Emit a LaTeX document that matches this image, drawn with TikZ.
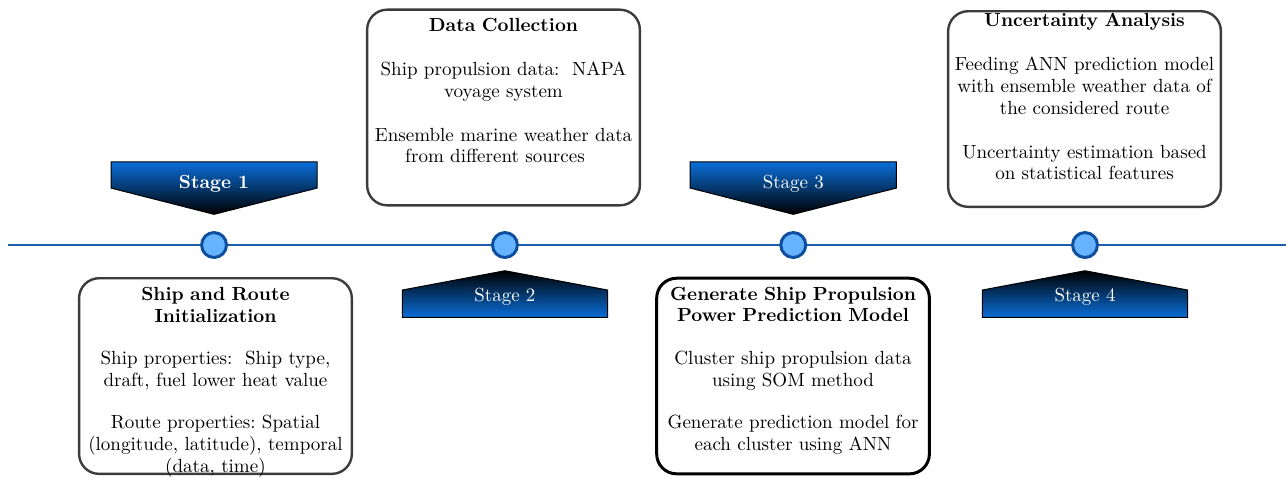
\documentclass[tikz,border=0pt]{standalone}
\usepackage{fontspec}
\usepackage{tikz}
\usetikzlibrary{positioning,calc}
\definecolor{lineblue}{HTML}{1C5EA8}
\definecolor{dotblue}{HTML}{66B3FF}
\definecolor{dotedge}{HTML}{0D4F9E}
\definecolor{bannerblue}{HTML}{0A6ED8}
\definecolor{cardgray}{HTML}{3C3C3C}

\begin{document}
\begin{tikzpicture}[
  dot/.style={circle,draw=dotedge,fill=dotblue,line width=1.5pt,minimum size=0.44cm,inner sep=0pt},
  card/.style={draw=cardgray,line width=1.2pt,rounded corners=10pt,minimum width=4.81cm,
    minimum height=3.45cm,inner sep=0pt},
  cardtext/.style={text width=4.75cm,align=center,inner sep=0pt,font=\fontsize{9.55}{10.9}\selectfont},
  stagetext/.style={text=white,inner sep=0pt,anchor=base,font=\fontsize{9.5}{11}\selectfont},
  banner/.style={draw=black,line width=0.5pt}]
\useasboundingbox (0,0) rectangle (22.68,8.413);

% timeline
\coordinate (tl-start) at (0.14,4.092);
\coordinate (tl-end) at (22.68,4.092);
\draw[lineblue,line width=1.4pt] (tl-start) -- (tl-end);
\foreach \x/\n in {3.775/1,8.905/2,13.99/3,19.135/4}
  \node[dot] (dot\n) at (\x,4.092) {};

% stage banners
\foreach \x in {3.775,13.99}
  \shade[banner,top color=bannerblue,bottom color=black]
    (\x-1.817,5.557) -- (\x+1.817,5.557) -- (\x+1.817,5.096) -- (\x,4.633)
    -- (\x-1.817,5.096) -- cycle;
\foreach \x in {8.905,19.135}
  \shade[banner,top color=black,bottom color=bannerblue]
    (\x-1.81,2.817) -- (\x+1.81,2.817) -- (\x+1.81,3.298) -- (\x,3.638)
    -- (\x-1.81,3.298) -- cycle;
\node[stagetext] (stage1) at (3.775,5.08) {\textbf{Stage 1}};
\node[stagetext] (stage2) at (8.905,3.092) {Stage 2};
\node[stagetext] (stage3) at (13.99,5.08) {Stage 3};
\node[stagetext] (stage4) at (19.135,3.092) {Stage 4};

% stage cards
\node[card] (card1) at (3.80,1.781) {};
\node[cardtext,below=0.17cm of card1.north] (text1)
  {\textbf{Ship and Route}\\ \textbf{Initialization}\\[10.4pt]
   Ship properties:\ \ Ship type,\\ draft, fuel lower heat value\\[10.4pt]
   Route properties:\ Spatial\\ (longitude, latitude), temporal\\ (data, time)};
\node[card] (card2) at (8.88,6.517) {};
\node[cardtext,below=0.16cm of card2.north] (text2)
  {\textbf{Data Collection}\\[11.4pt]
   Ship propulsion data:\ \ NAPA\\ voyage system\\[11pt]
   Ensemble marine weather data\\ \mbox{from different sources\hspace{0.3cm}}};
\node[card,draw=black,line width=1.5pt] (card3) at (13.986,1.781) {};
\node[cardtext,below=0.17cm of card3.north] (text3)
  {\textbf{Generate Ship Propulsion}\\ \textbf{Power Prediction Model}\\[10.5pt]
   Cluster ship propulsion data\\ using SOM method\\[10.5pt]
   Generate prediction model for\\ each cluster using ANN};
\node[card] (card4) at (19.127,6.49) {};
\node[cardtext,below=0.05cm of card4.north] (text4)
  {\textbf{Uncertainty Analysis}\\[11.4pt]
   Feeding ANN prediction model\\ with ensemble weather data of\\ the considered route\\[11pt]
   Uncertainty estimation based\\ on statistical features};
\end{tikzpicture}
\end{document}
